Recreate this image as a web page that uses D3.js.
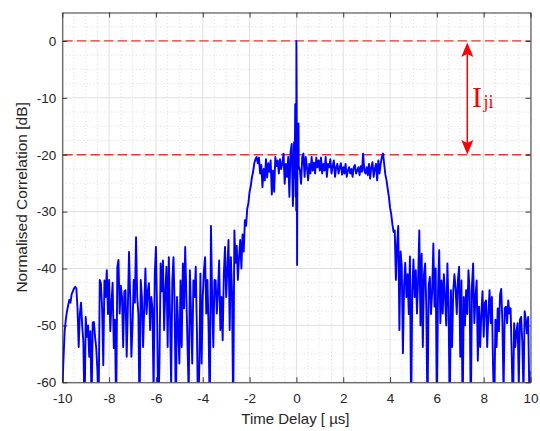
<!DOCTYPE html>
<html><head><meta charset="utf-8">
<script src="https://cdn.jsdelivr.net/npm/d3@7/dist/d3.min.js"></script>
<style>body{margin:0;background:#fff}svg{display:block}</style>
</head><body>
<svg id="chart" width="540" height="431"></svg>
<script>
// ---- data ----
const xTicks = [-10, -8, -6, -4, -2, 0, 2, 4, 6, 8, 10];
const yTicks = [-60, -50, -40, -30, -20, -10, 0];
const xMinorStep = 0.5, yMinorStep = 2.5;
const xDomain = [-10, 10];
const yDomain = [-60, 5];
const delayStart = -10, delayStep = 0.05;   // sampling of the correlation trace [us]
const corr = [
 -62,-56,-51,-49,-47.5,-46.5,-45.5,-46,-44.5,-44,-43.5,-43.2,-43.5,-47,-53.8,-48,-46,-50,-53,-66,
 -48.5,-52,-50,-55.5,-51,-64,-49.5,-49.4,-52,-54,-58,-65,-42,-42.6,-47,-57,-42.1,-45,-40.3,-48,
 -42,-51,-46,-42.5,-54,-49,-66,-39.8,-38.5,-47.9,-43,-45,-53.8,-44,-43.8,-55.5,-47,-37.1,-45,-55.5,
 -50,-42,-46,-34.5,-45,-48,-66,-42,-45,-53.8,-47,-40,-48,-44,-42.6,-50.8,-45,-47,-62,-41,
 -36.2,-47.9,-66,-56.7,-39.1,-44,-38.6,-50.8,-44,-39.7,-53.8,-38,-47.9,-60.5,-42.1,-38,-47,-66,-45,-50,
 -56.7,-42.1,-53.8,-39.1,-47,-36.2,-45,-53.8,-62,-40.3,-48,-56.7,-42.1,-45,-39.7,-50.8,-66,-57.8,-40.9,-56.7,
 -45,-40.3,-38,-47.9,-42,-50.8,-66,-32.5,-45,-53.8,-42,-42.1,-47.9,-44,-38.6,-50.8,-45,-52.6,-41,-36.2,
 -45,-40,-35,-50.8,-38,-44,-66,-33.3,-39,-36,-42,-38,-35,-40,-34,-37,-31.5,-32.5,-29.5,-28.5,
 -26.5,-25.5,-24,-23,-21.5,-20.8,-20.4,-21.5,-20.5,-23.3,-21.8,-25.7,-22.5,-24.5,-20.8,-24,-21.5,-23,-21,-27,
 -22.8,-26.5,-20.4,-22,-21,-23.3,-20.8,-22.5,-21.5,-19.8,-25.1,-21.6,-23.9,-20.4,-27.4,-19.6,-18.1,-29,-17.8,-11.1,
 0,-15.2,-22,-22.8,-25.1,-20.4,-19.8,-23.9,-20.4,-22.2,-24.5,-21.6,-23.3,-20.4,-22.8,-21.4,-23.3,-20.5,-22.2,-21,
 -22.8,-20.5,-23.3,-21.6,-22.8,-20.4,-23.9,-21.6,-22.2,-20.8,-23.3,-22,-21,-23.9,-22.2,-21.6,-23.3,-22.2,-21.5,-23.5,
 -22.2,-23.3,-21.6,-23.9,-22.8,-22.2,-23.3,-22.5,-23.9,-22.2,-21.8,-23.3,-22.8,-22.2,-23.6,-22,-23,-19.8,-22.8,-23.3,
 -22.2,-23.6,-21.6,-24.2,-22.2,-21.3,-23.9,-22.5,-21.6,-24.5,-21,-23.3,-21.6,-20.4,-19.8,-21.6,-23.5,-24.5,-26,-27.4,
 -29.3,-30.4,-32.2,-33.6,-33.3,-42,-35.8,-32.5,-50.8,-37,-39.5,-54.9,-43,-39,-45,-41,-48,-37.9,-66,-44,
 -38.4,-45,-40.3,-47.9,-42,-33.3,-50,-37.4,-53.8,-41,-39.1,-47,-66,-43,-41.5,-48,-44,-35.6,-46.7,-40,
 -66,-44,-36.8,-49.6,-42.1,-47.9,-41,-45,-50,-39.1,-46.7,-66,-43.8,-53.8,-44,-41,-43.5,-48,-42,-39.7,
 -55.5,-42.1,-66,-45,-50,-43.8,-48,-40.3,-44,-66,-43,-39.1,-49.6,-45,-42.1,-56.2,-46.7,-53.8,-47.9,-44,
 -52,-46,-45.6,-53.8,-48,-43.8,-49.6,-45,-57.3,-66,-49,-53.8,-47,-51,-44.5,-43.6,-49.6,-62,-47,-46.7,
 -49.6,-45.6,-47.9,-47,-55.5,-66,-49.6,-53.8,-51,-49.6,-60.5,-49,-48.5,-53,-62,-47.5,-49,-51.4,-48.5,-62,
 -58
];
// extra fine samples around the main lobe
const centreDelay = [-0.075, -0.035, -0.015, -0.008, 0.012, 0.03, 0.075, 0.09];
const centreCorr  = [-24, -27.4, -13, -29.8, -9, -39.4, -19.2, -14.5];
const levelLines = [0, -20];      // dashed reference levels [dB]
const arrowDelay = 7.3;           // position of the I_ji arrow [us]
const labelDelay = 7.5, labelLevel = -11.6;

// ---- layout ----
const svg = d3.select("#chart");
const L = 62.3, R = 530.5, T = 12.5, B = 382.3;
const x = d3.scaleLinear().domain(xDomain).range([L, R]);
const y = d3.scaleLinear().domain(yDomain).range([B, T]);
const axisCol = "#262626";
const font = "'Liberation Sans', Arial, Helvetica, sans-serif";

// minor grid
const xMinor = d3.range(xDomain[0], xDomain[1] + 1e-9, xMinorStep).filter(v => !xTicks.includes(v));
const yMinor = d3.range(yDomain[0], yDomain[1] + 1e-9, yMinorStep).filter(v => !yTicks.includes(v));
const g = svg.append("g");
g.selectAll(".xm").data(xMinor).join("line")
  .attr("x1", d => x(d)).attr("x2", d => x(d)).attr("y1", T).attr("y2", B)
  .attr("stroke", "#c4c4c4").attr("stroke-width", 0.6).attr("stroke-dasharray", "1,2.5");
g.selectAll(".ym").data(yMinor).join("line")
  .attr("y1", d => y(d)).attr("y2", d => y(d)).attr("x1", L).attr("x2", R)
  .attr("stroke", "#c4c4c4").attr("stroke-width", 0.6).attr("stroke-dasharray", "1,2.5");
// major grid
g.selectAll(".xg").data(xTicks).join("line")
  .attr("x1", d => x(d)).attr("x2", d => x(d)).attr("y1", T).attr("y2", B)
  .attr("stroke", "#e0e0e0").attr("stroke-width", 1);
g.selectAll(".yg").data(yTicks).join("line")
  .attr("y1", d => y(d)).attr("y2", d => y(d)).attr("x1", L).attr("x2", R)
  .attr("stroke", "#e0e0e0").attr("stroke-width", 1);

// clip
svg.append("clipPath").attr("id", "clip").append("rect")
  .attr("x", L).attr("y", T).attr("width", R - L).attr("height", B - T);

// dashed level lines
svg.append("g").selectAll("line").data(levelLines).join("line")
  .attr("x1", L + 1).attr("x2", R).attr("y1", d => y(d)).attr("y2", d => y(d))
  .attr("stroke", "#ff0000").attr("stroke-opacity", 0.8).attr("stroke-width", 1.3)
  .attr("stroke-dasharray", "9.3,4.3");

// trace
const pts = corr.map((v, i) => [delayStart + i * delayStep, v])
  .concat(centreDelay.map((d, i) => [d, centreCorr[i]]))
  .sort((a, b) => a[0] - b[0]);
svg.append("path").datum(pts)
  .attr("clip-path", "url(#clip)")
  .attr("fill", "none").attr("stroke", "#0000ff").attr("stroke-width", 1.9)
  .attr("stroke-linejoin", "round")
  .attr("d", d3.line().x(d => x(d[0])).y(d => y(d[1])));

// axes (inward ticks, box)
function styleAxis(sel) {
  sel.selectAll("path").attr("stroke", axisCol).attr("stroke-width", 0.9);
  sel.selectAll("line").attr("stroke", axisCol).attr("stroke-width", 0.9);
  sel.selectAll("text").attr("fill", axisCol).style("font-family", font).style("font-size", "13.5px");
}
const fmt = d => d < 0 ? "-" + Math.abs(d) : String(d);
svg.append("g").attr("transform", `translate(0,${B})`)
  .call(d3.axisBottom(x).tickValues(xTicks).tickFormat(fmt).tickSizeInner(-5).tickSizeOuter(0).tickPadding(11))
  .call(styleAxis);
svg.append("g").attr("transform", `translate(0,${T})`)
  .call(d3.axisTop(x).tickValues(xTicks).tickFormat("").tickSizeInner(-5).tickSizeOuter(0))
  .call(styleAxis);
svg.append("g").attr("transform", `translate(${L},0)`)
  .call(d3.axisLeft(y).tickValues(yTicks).tickFormat(fmt).tickSizeInner(-5).tickSizeOuter(0).tickPadding(6))
  .call(styleAxis);
svg.append("g").attr("transform", `translate(${R},0)`)
  .call(d3.axisRight(y).tickValues(yTicks).tickFormat("").tickSizeInner(-5).tickSizeOuter(0))
  .call(styleAxis);

// labels
svg.append("text").attr("x", (L + R) / 2 - 1).attr("y", 423.5).attr("text-anchor", "middle")
  .attr("fill", axisCol).style("font-family", font).style("font-size", "15px")
  .text("Time Delay [ µs]");
svg.append("text").attr("transform", `translate(26.5,${(T + B) / 2}) rotate(-90)`)
  .attr("text-anchor", "middle").attr("fill", axisCol)
  .style("font-family", font).style("font-size", "15.5px")
  .text("Normalised Correlation [dB]");

// double arrow
const ax = x(arrowDelay);
const yTop = y(levelLines[0]) + 1.5, yBot = y(levelLines[1]) - 0.2;
const headL = 14.5, headW = 6, notch = 3;
svg.append("line").attr("x1", ax).attr("x2", ax).attr("y1", yTop + headL - notch).attr("y2", yBot - headL + notch)
  .attr("stroke", "#ff0000").attr("stroke-width", 1.5);
svg.append("path").attr("fill", "#ff0000")
  .attr("d", `M${ax},${yTop} L${ax + headW},${yTop + headL} L${ax},${yTop + headL - notch} L${ax - headW},${yTop + headL} Z`);
svg.append("path").attr("fill", "#ff0000")
  .attr("d", `M${ax},${yBot} L${ax + headW},${yBot - headL} L${ax},${yBot - headL + notch} L${ax - headW},${yBot - headL} Z`);

const lab = svg.append("text").attr("x", x(labelDelay)).attr("y", y(labelLevel))
  .attr("fill", "#ff0000").style("font-family", "'Liberation Serif', 'Times New Roman', serif");
lab.append("tspan").style("font-size", "30px").text("I");
lab.append("tspan").style("font-size", "18px").attr("dx", 1.5).attr("dy", 1).text("ji");
</script>
</body></html>
